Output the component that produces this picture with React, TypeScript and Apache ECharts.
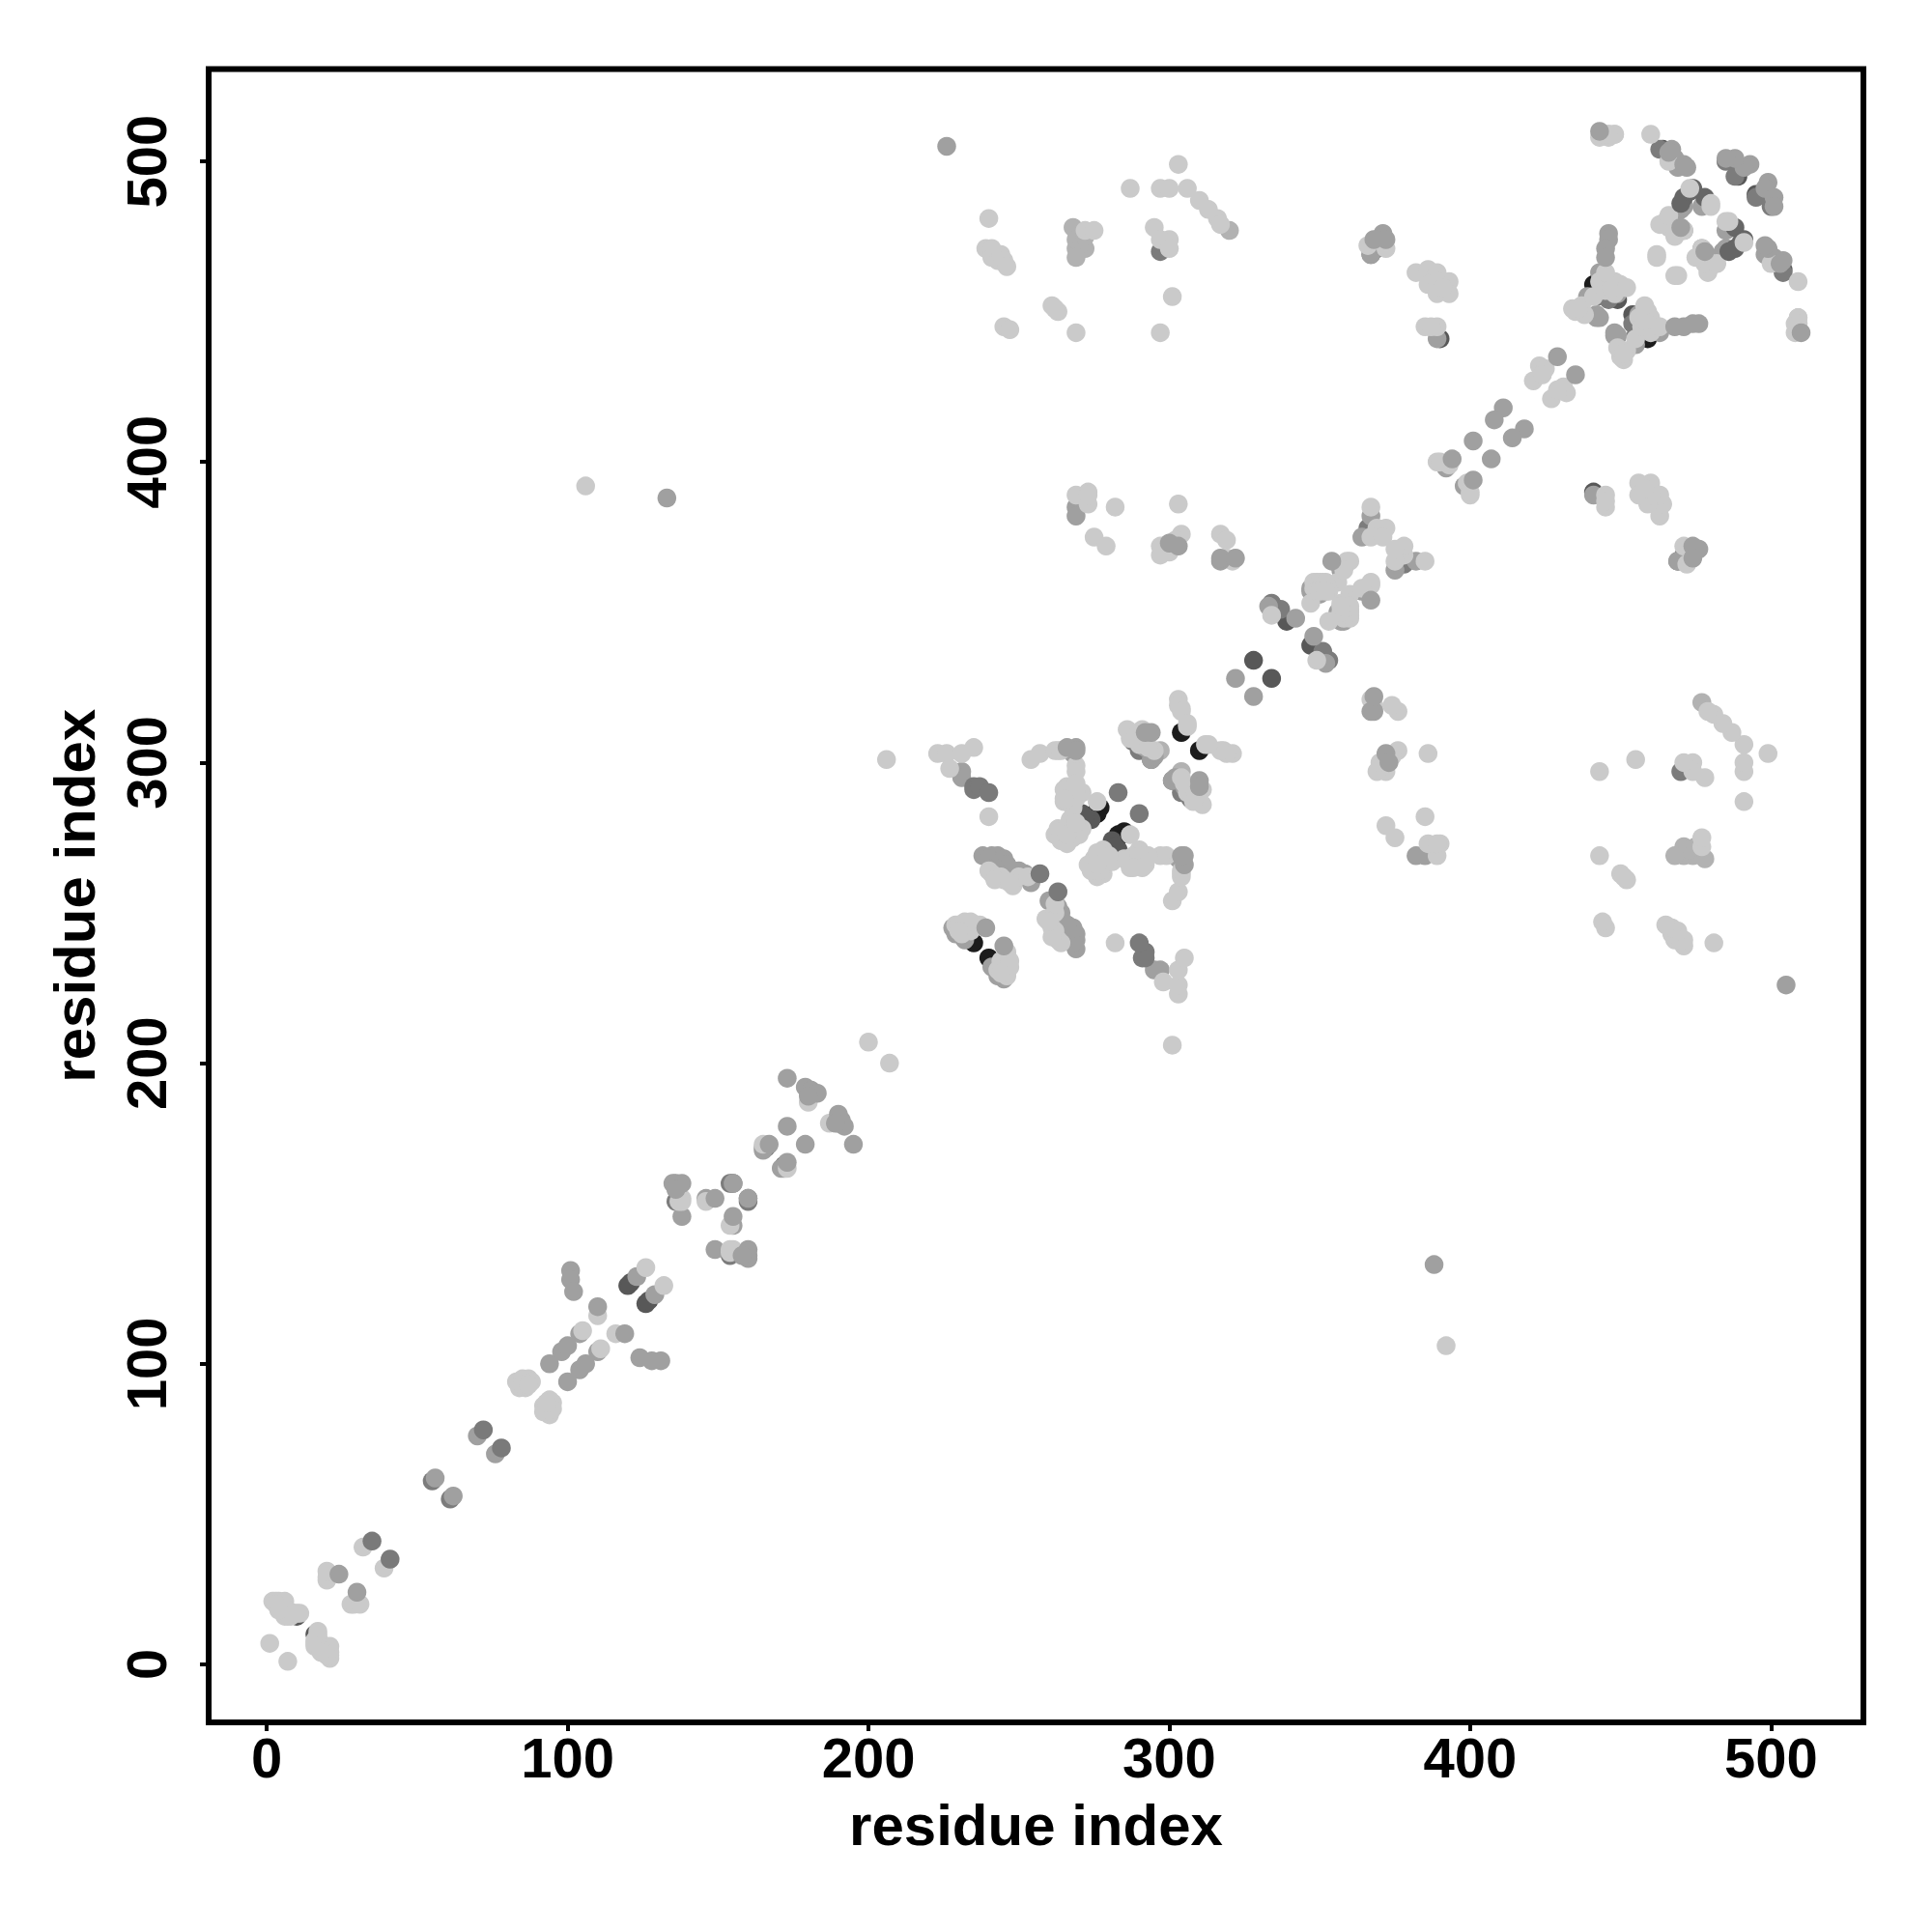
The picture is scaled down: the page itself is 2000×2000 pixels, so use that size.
import React, { useEffect, useRef } from "react";
import * as echarts from "echarts";

// Contacts between residues [i, j]; the map is symmetric, so each pair is plotted at (i, j) and (j, i).
const blackContacts: number[][] = [
  [276,284],[304,310],[235,240],[441,459],[277,285],[283,276],[272,282],
];
const darkerContacts: number[][] = [
  [10,16],[120,126],[121,127],[328,334],[339,347],[271,283],[274,281],[367,379],[449,454],[464,504],
  [489,495],[390,441],[280,271],[282,272],
];
const darkContacts: number[][] = [
  [55,61],[136,154],[154,160],[160,155],[166,172],[172,166],[334,353],[337,351],[366,378],[367,469],[369,471],
  [288,307],[290,304],[294,301],[241,266],[245,267],[265,245],[446,454],[463,504],[485,500],[488,500],[488,495],
  [297,470],[442,455],[243,267],[266,242],[268,240],
];
const paleContacts: number[][] = [
  [268,478],[269,471],[272,471],[269,474],[271,473],[272,475],[297,304],[320,477],[269,468],
];
const midContacts: number[][] = [
  [56,62],[70,76],[104,110],[123,129],[138,149],[146,155],[165,171],[165,172],[231,297],[231,295],
  [228,245],[229,243],[232,241],[238,269],[241,269],[243,269],[240,268],[245,268],[248,264],[246,266],[251,263],[253,262],
  [254,260],[252,263],[250,264],[246,266],[242,265],[347,357],[350,356],[364,375],[367,382],[442,448],[443,448],[449,456],[442,449],[439,455],
  [443,463],[471,485],[477,485],[471,477],[269,385],[269,382],[333,352],[290,309],[292,310],[293,305],[294,301],[295,302],[292,305],
  [268,303],[269,305],[470,484],[468,501],[469,498],[347,358],[367,469],[357,364],[392,398],[389,441],
];
const lightContacts: number[][] = [
  [1,7],[2,21],[3,21],[4,21],[5,20],[5,18],[6,19],[6,21],[7,18],[7,16],[8,16],[9,17],[10,17],[11,17],[3,20],[6,16],[4,18],
  [20,28],[20,29],[20,31],[32,39],
  [83,94],[85,95],[87,95],[88,94],[84,92],[86,92],[85,93],[87,93],[105,111],[110,116],[126,132],
  [137,154],[138,155],[138,154],[146,154],[165,173],[180,187],[200,207],
  [223,303],[226,303],[231,303],[235,305],[227,298],[240,282],[254,301],[257,303],[263,304],[262,304],[264,304],[269,299],[269,297],[206,301],
  [266,292],[267,290],[271,290],[269,288],[276,287],[263,278],[267,281],[268,275],[271,278],[265,276],[268,278],[262,276],[264,274],[266,273],[270,276],[268,285],
  [269,293],[269,290],[265,291],[265,287],[265,288],[264,277],[266,276],[269,280],
  [287,310],[291,311],[286,311],[290,306],[295,304],[287,308],[290,307],[293,305],[289,309],
  [303,321],[304,318],[303,319],[306,312],[304,317],[306,313],
  [234,246],[229,246],[232,245],[231,243],[235,246],[237,246],[232,247],[230,246],[234,244],[236,246],[234,247],[230,244],
  [245,261],[241,263],[248,259],[240,264],[244,262],[250,262],[253,262],[242,261],[247,260],
  [240,481],[239,471],[241,471],[241,468],[243,467],[244,469],[245,467],[246,465],[245,445],[247,444],[261,452],[263,450],[262,451],
  [269,443],[297,443],[301,455],[287,491],[297,491],[300,491],[303,499],[306,491],[310,487],[313,484],[316,481],[317,479],
  [295,478],[300,474],[297,474],[300,471],[272,477],[275,477],
  [269,389],[273,390],[273,386],[273,389],[282,385],[275,375],[279,372],[303,386],[304,376],[302,374],[297,372],[297,369],[300,370],
  [317,376],[319,374],[321,367],[319,368],
  [366,472],[372,471],[382,463],[386,464],[389,463],[393,460],[386,459],[389,460],[393,456],[389,456],[391,458],[385,445],[389,445],[387,445],
  [349,359],[352,359],[350,358],[347,353],[359,367],[358,365],[360,367],[356,360],[348,358],[351,360],[353,358],[334,349],[358,364],
  [349,360],[353,359],[348,360],[350,360],[352,360],[353,357],[349,357],[350,357],[352,357],
  [367,385],[369,378],[372,378],[367,375],[371,375],[106,392],
  [389,400],[393,399],[390,400],[421,427],[423,432],[425,431],[424,429],
  [434,451],[437,452],[435,450],[438,449],[441,455],[445,462],[450,459],[443,460],[448,460],[448,456],[436,451],[445,457],[447,458],[452,458],[445,463],
  [444,509],[446,509],[448,509],[443,508],[446,508],[460,509],[466,500],[465,480],[463,479],[466,478],[468,477],[462,469],[462,468],
  [471,477],[466,482],[468,475],[444,509],[448,509],[446,509],
];
const midOverContacts: number[][] = [
  [24,30],[94,100],[98,104],[100,106],[110,119],[101,131],[101,128],[102,124],[149,155],[173,195],[179,192],[180,190],[181,191],[183,190],[180,189],
  [173,179],[167,173],[155,160],[136,160],[138,160],[135,160],[136,158],[239,245],
  [266,305],[269,304],[294,310],[292,310],[322,328],[342,348],[354,367],[429,435],[411,418],[408,414],[401,407],[394,401],
  [371,476],[372,474],[368,474],[303,372],[300,373],[317,367],[317,368],[322,368],[226,505],[133,388],
  [446,476],[446,474],[445,471],[445,468],[443,510],
  [467,504],[466,503],[471,499],[472,498],[493,499],[491,498],[488,501],[485,501],[470,478],
];
const darkOverContacts: number[][] = [
  [35,41],[72,78],[235,292],[235,291],[237,292],[240,290],[257,263],[283,290],
];
const darkerOverContacts: number[][] = [
  [474,491],[471,488],[470,486],[478,488],[473,490],
];
const lightOverContacts: number[][] = [
  [480,486],[480,485],[473,491],
];

const xTickValues = [0, 100, 200, 300, 400, 500];
const yTickValues = [0, 100, 200, 300, 400, 500];
const axisTitle = "residue index";

const layers: [number[][], string][] = [
  [blackContacts, "#1c1c1c"],
  [darkerContacts, "#585858"],
  [darkContacts, "#7c7c7c"],
  [paleContacts, "#b2b2b2"],
  [midContacts, "#a0a0a0"],
  [lightContacts, "#cacaca"],
  [midOverContacts, "#a0a0a0"],
  [darkOverContacts, "#7a7a7a"],
  [darkerOverContacts, "#666666"],
  [lightOverContacts, "#cacaca"],
];

const FONT = '"Liberation Sans", Arial, sans-serif';

export default function App() {
  const ref = useRef<HTMLDivElement>(null);
  useEffect(() => {
    const chart = echarts.init(ref.current!, undefined, { renderer: "svg" });
    const axis = (customValues: number[]) => ({
      type: "value",
      min: -19.3,
      max: 530.7,
      splitLine: { show: false },
      axisLine: { show: false, onZero: false },
      axisTick: { show: true, customValues, length: 9, inside: false, lineStyle: { color: "#000", width: 4 } },
      nameLocation: "middle",
      name: axisTitle,
      nameMoveOverlap: false,
      nameTextStyle: { fontFamily: FONT, fontWeight: "bold", fontSize: 60, color: "#000" },
    });
    chart.setOption({
      animation: false,
      backgroundColor: "#fff",
      grid: { left: 216, right: 71, top: 71.5, bottom: 217, show: true, borderColor: "#000", borderWidth: 6, backgroundColor: "transparent" },
      xAxis: {
        ...axis(xTickValues),
        nameGap: 76,
        axisLabel: { customValues: xTickValues, margin: 7, fontFamily: FONT, fontWeight: "bold", fontSize: 58, color: "#000" },
      },
      yAxis: {
        ...axis(yTickValues),
        nameGap: 109,
        axisLabel: { customValues: yTickValues, rotate: 90, margin: 65, align: "center", verticalAlign: "middle", fontFamily: FONT, fontWeight: "bold", fontSize: 58, color: "#000" },
      },
      series: layers.map(([pairs, color]) => ({
        type: "scatter",
        symbol: "circle",
        symbolSize: 19.5,
        itemStyle: { color, opacity: 1 },
        data: pairs.flatMap(([i, j]) => [[i, j], [j, i]]),
      })),
    });
    return () => chart.dispose();
  }, []);
  return <div ref={ref} style={{ position: "absolute", left: 0, top: 0, width: 2000, height: 2000 }} />;
}
